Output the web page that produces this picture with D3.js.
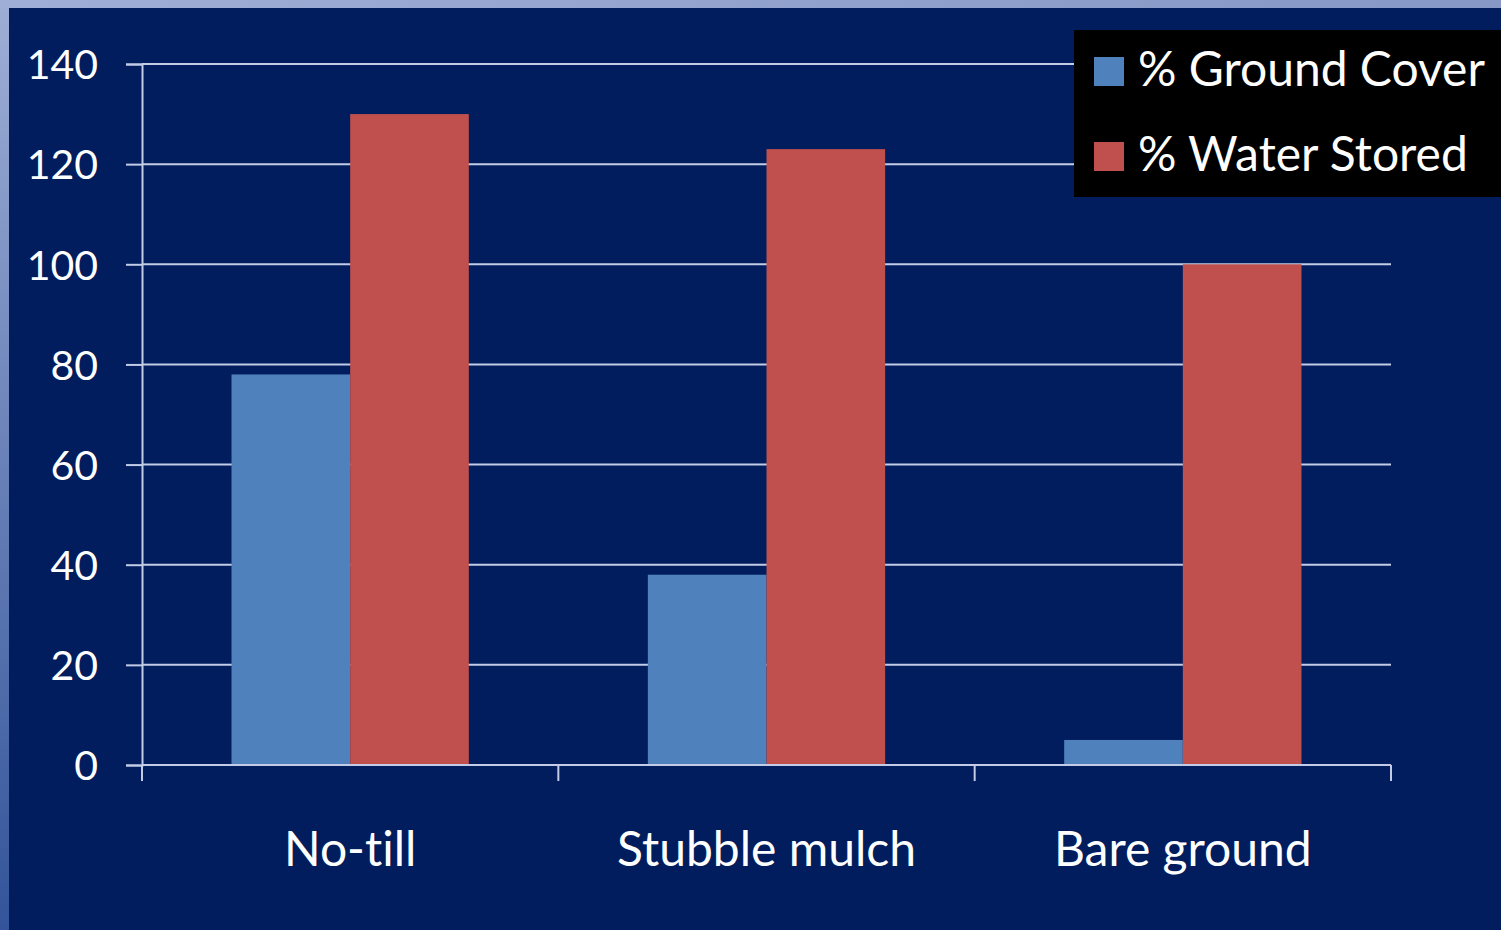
<!DOCTYPE html>
<html>
<head>
<meta charset="utf-8">
<script src="https://cdn.jsdelivr.net/npm/d3@7"></script>
<style>
  html, body { margin: 0; padding: 0; background: #011d5e; }
  svg { display: block; }
  text { font-family: Lato, "Open Sans", sans-serif; fill: #ffffff; font-variant-ligatures: none; }
</style>
</head>
<body>
<svg id="chart" width="1501" height="930"></svg>
<script>
// Tillage practice vs. ground cover and water storage
const categories = ["No-till", "Stubble mulch", "Bare ground"];
const seriesNames = ["% Ground Cover", "% Water Stored"];
const groundCover = [78, 38, 5];
const waterStored = [130, 123, 100];
const yTicks = [0, 20, 40, 60, 80, 100, 120, 140];
const seriesColors = ["#4f81bd", "#c0504d"];

const W = 1501, H = 930;
const svg = d3.select("#chart");

// slide frame: navy field with a pale strip on the top and left edges
const defs = svg.append("defs");
const gTop = defs.append("linearGradient").attr("id", "frameTop")
  .attr("x1", 0).attr("x2", 1).attr("y1", 0).attr("y2", 0);
gTop.append("stop").attr("offset", 0).attr("stop-color", "#9eaed6");
gTop.append("stop").attr("offset", 1).attr("stop-color", "#8797c6");
const gLeft = defs.append("linearGradient").attr("id", "frameLeft")
  .attr("x1", 0).attr("x2", 0).attr("y1", 0).attr("y2", 1);
gLeft.append("stop").attr("offset", 0).attr("stop-color", "#9eaed6");
gLeft.append("stop").attr("offset", 1).attr("stop-color", "#33549a");

svg.append("rect").attr("width", W).attr("height", H).attr("fill", "#011d5e");
svg.append("rect").attr("x", 0).attr("y", 0).attr("width", W).attr("height", 8).attr("fill", "url(#frameTop)");
svg.append("rect").attr("x", 0).attr("y", 0).attr("width", 9).attr("height", H).attr("fill", "url(#frameLeft)");

const margin = { left: 142, right: W - 1391, top: 64, bottom: H - 765 };
const plotW = W - margin.left - margin.right;
const plotH = H - margin.top - margin.bottom;

const g = svg.append("g").attr("transform", `translate(${margin.left},${margin.top})`);

const x0 = d3.scaleBand().domain(categories).range([0, plotW]).paddingInner(0.43).paddingOuter(0.215);
const x1 = d3.scaleBand().domain(seriesNames).range([0, x0.bandwidth()]).padding(0);
const y = d3.scaleLinear().domain([0, 140]).range([plotH, 0]);

const gridColor = "#c3cce6";

// value axis with outward ticks
const yAxis = g.append("g")
  .call(d3.axisLeft(y).tickValues(yTicks).tickSize(16).tickPadding(28).tickFormat(d3.format("d")));
yAxis.select(".domain").attr("stroke", gridColor).attr("stroke-width", 2);
yAxis.selectAll(".tick line").attr("stroke", gridColor).attr("stroke-width", 2);
yAxis.selectAll(".tick text").attr("fill", "#ffffff").style("font-size", "41px").attr("dy", "0.36em");

// horizontal gridlines
g.append("g").selectAll("line").data(yTicks.filter(d => d > 0)).join("line")
  .attr("x1", 0).attr("x2", plotW)
  .attr("y1", d => y(d)).attr("y2", d => y(d))
  .attr("stroke", gridColor).attr("stroke-width", 2);

// grouped bars
const rows = categories.map((c, i) => ({ cat: c, vals: [groundCover[i], waterStored[i]] }));
const grp = g.append("g").selectAll("g").data(rows).join("g")
  .attr("transform", d => `translate(${x0(d.cat)},0)`);
grp.selectAll("rect").data(d => d.vals.map((v, j) => ({ name: seriesNames[j], v, j }))).join("rect")
  .attr("x", d => x1(d.name))
  .attr("width", x1.bandwidth())
  .attr("y", d => y(d.v))
  .attr("height", d => plotH - y(d.v))
  .attr("fill", d => seriesColors[d.j]);

// category axis with boundary ticks
const xAxisG = g.append("g").attr("transform", `translate(0,${plotH})`);
xAxisG.append("line").attr("x1", 0).attr("x2", plotW).attr("stroke", gridColor).attr("stroke-width", 2);
const bounds = d3.range(categories.length + 1).map(i => i === categories.length ? plotW : x0(categories[i]) - x0.step() * x0.paddingInner() / 2);
bounds[0] = 0;
xAxisG.selectAll("line.bt").data(bounds).join("line").attr("class", "bt")
  .attr("x1", d => d).attr("x2", d => d).attr("y1", 0).attr("y2", 16)
  .attr("stroke", gridColor).attr("stroke-width", 2);
xAxisG.selectAll("text").data(categories).join("text")
  .attr("x", d => x0(d) + x0.bandwidth() / 2)
  .attr("y", 101)
  .attr("text-anchor", "middle")
  .style("font-size", "48px")
  .text(d => d);

// legend box
const leg = svg.append("g").attr("transform", "translate(1074,30)");
leg.append("rect").attr("width", 440).attr("height", 167).attr("fill", "#000000");
seriesNames.forEach((name, i) => {
  const row = leg.append("g").attr("transform", `translate(0,${27 + i * 85})`);
  row.append("rect").attr("x", 20).attr("y", 0).attr("width", 30).attr("height", 29).attr("fill", seriesColors[i]);
  row.append("text").attr("x", 64).attr("y", 29).style("font-size", "48px").text(name);
});
</script>
</body>
</html>
